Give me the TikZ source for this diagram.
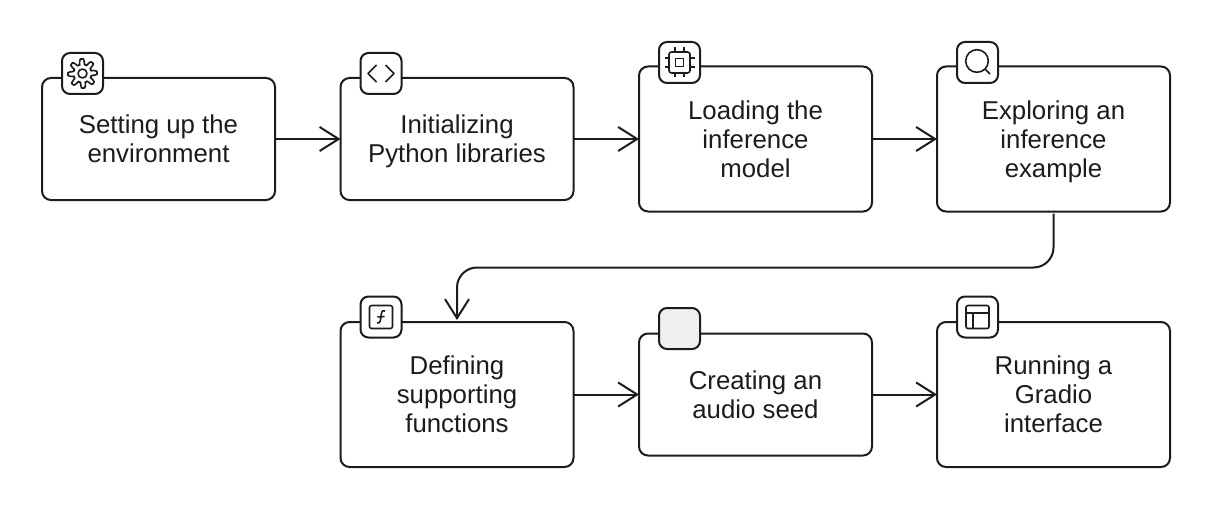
\documentclass[tikz,border=0pt]{standalone}
\usepackage{fontspec}
\setmainfont{Liberation Sans}
\usetikzlibrary{arrows.meta}

\definecolor{inkline}{HTML}{1C1C1C}
\definecolor{seedfill}{HTML}{EFEFEF}

\tikzset{
	stepbox/.style={draw=inkline, line width=2pt, fill=white, rounded corners=9pt, outer sep=0pt,
		minimum width=233pt, align=center, text depth=0pt, text=inkline, font=\fontsize{25.8}{29}\selectfont},
	shortbox/.style={stepbox, minimum height=122pt},
	tallbox/.style={stepbox, minimum height=145pt},
	iconbox/.style={draw=inkline, line width=2pt, fill=white, rounded corners=8pt, outer sep=0pt,
		minimum width=41pt, minimum height=41pt},
	glyph/.style={draw=inkline, line width=1.6pt, line join=round},
	flow/.style={draw=inkline, line width=2pt, -{Straight Barb[length=19pt,width=24pt,line width=2pt]}}
}

\begin{document}
\begin{tikzpicture}[x=1pt, y=-1pt]
\useasboundingbox (0,0) rectangle (1212,508);

% top row
\node[shortbox] (setup) at (158.5,139) {Setting up the\\environment};
\node[shortbox] (libs) at (457,139) {Initializing\\Python libraries};
\node[tallbox] (model) at (755.5,139) {Loading the\\inference\\model};
\node[tallbox] (explore) at (1053.5,139) {Exploring an\\inference\\example};

% bottom row
\node[tallbox] (funcs) at (457,394.5) {Defining\\supporting\\functions};
\node[shortbox] (seed) at (755.5,394.5) {Creating an\\audio seed};
\node[tallbox] (gradio) at (1053.5,394.5) {Running a\\Gradio\\interface};

% icon frames
\node[iconbox] (setupicon) at (82.5,73.5) {};
\node[iconbox] (libsicon) at (381,73.5) {};
\node[iconbox] (modelicon) at (679.5,62.5) {};
\node[iconbox] (exploreicon) at (977.5,62.5) {};
\node[iconbox] (funcsicon) at (381,317) {};
\node[iconbox, fill=seedfill] (seedicon) at (679.5,328.5) {};
\node[iconbox] (gradioicon) at (977.5,317) {};

% connectors
\draw[flow] (setup) -- (libs);
\draw[flow] (libs) -- (model);
\draw[flow] (model) -- (explore);
\draw[flow] (funcs) -- (seed);
\draw[flow] (seed) -- (gradio);
\draw[flow, rounded corners=20pt, shorten <=2pt, shorten >=2pt] (explore.south) -- ++(0,56) -| (funcs.north);

% gear
\begin{scope}[shift={(setupicon.center)}]
\draw[glyph, rounded corners=1pt, variable=\t, domain=0:360, samples=97]
plot ({(11.8+2.8*max(-1,min(1,2*cos(8*\t+22.5))))*cos(\t)},{(11.8+2.8*max(-1,min(1,2*cos(8*\t+22.5))))*sin(\t)}) -- cycle;
\draw[glyph] (0,0) circle (4.5pt);
\end{scope}

% code brackets
\begin{scope}[shift={(libsicon.center)}]
\draw[glyph] (-4.5,-8.5) -- (-13,0) -- (-4.5,8.5);
\draw[glyph] (4.5,-8.5) -- (13,0) -- (4.5,8.5);
\end{scope}

% chip
\begin{scope}[shift={(modelicon.center)}]
\draw[glyph, rounded corners=2.5pt] (-10.5,-10.5) rectangle (10.5,10.5);
\draw[glyph] (-4,-4) rectangle (4,4);
\foreach \p in {-4.5,4.5} {
	\draw[glyph] (\p,-15) -- (\p,-10.5);
	\draw[glyph] (\p,10.5) -- (\p,15);
	\draw[glyph] (-15,\p) -- (-10.5,\p);
	\draw[glyph] (10.5,\p) -- (15,\p);
}
\end{scope}

% magnifier
\begin{scope}[shift={(exploreicon.center)}]
\draw[glyph] (-0.5,-1.5) circle (11.3pt);
\draw[glyph] (7.5,6.5) -- (12.5,11.5);
\end{scope}

% function
\begin{scope}[shift={(funcsicon.center)}]
\draw[glyph, rounded corners=2pt] (-11.5,-11.5) rectangle (11.5,11.5);
\draw[glyph] (4,-6) .. controls (0,-7.5) and (0.5,-3) .. (0,0) .. controls (-0.5,3) and (-0.5,6.5) .. (-4,6);
\draw[glyph] (-3.5,0) -- (3.5,-0.5);
\end{scope}

% layout
\begin{scope}[shift={(gradioicon.center)}]
\draw[glyph, rounded corners=2pt] (-11.5,-11.5) rectangle (11.5,11.5);
\draw[glyph] (-11.5,-4) -- (11.5,-4);
\draw[glyph] (-4.5,-4) -- (-4.5,11.5);
\end{scope}
\end{tikzpicture}
\end{document}
